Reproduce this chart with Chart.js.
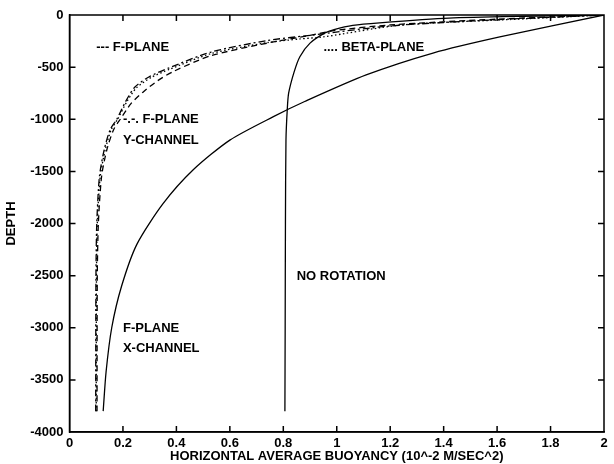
<!DOCTYPE html>
<html>
<head>
<meta charset="utf-8">
<script src="https://cdn.jsdelivr.net/npm/chart.js@4"></script>
<style>
  body { margin: 0; background: #fff; }
  #c { display: block; }
</style>
</head>
<body>
<canvas id="c" width="614" height="464"></canvas>
<script>
// buoyancy profiles (x = buoyancy, y = depth)
const noRotX = [0.806, 0.807, 0.808, 0.81, 0.815, 0.82, 0.84, 0.862, 0.90, 0.956, 0.99, 1.06, 1.16, 1.42, 1.7, 2];
const noRotY = [-3800, -3000, -2000, -1200, -900, -750, -550, -400, -270, -172, -140, -100, -75, -30, -12, 0];

const xChanX = [0.126, 0.137, 0.158, 0.195, 0.252, 0.35, 0.463, 0.60, 0.763, 0.88, 1.11, 1.36, 1.61, 2];
const xChanY = [-3800, -3420, -3000, -2600, -2200, -1810, -1485, -1200, -975, -830, -575, -365, -210, 0];

const fPlaneX = [0.103, 0.104, 0.108, 0.12, 0.14, 0.165, 0.19, 0.23, 0.275, 0.33, 0.39, 0.53, 0.74, 0.9, 0.99, 1.2, 1.6, 2];
const fPlaneY = [-3800, -2500, -2000, -1550, -1290, -1100, -1000, -850, -740, -630, -540, -390, -270, -195, -150, -95, -40, 0];

const yChanX = [0.098, 0.099, 0.102, 0.112, 0.13, 0.152, 0.177, 0.21, 0.245, 0.30, 0.37, 0.53, 0.74, 0.9, 1.2, 1.6, 2];
const yChanY = [-3800, -2500, -2000, -1550, -1290, -1100, -1000, -830, -690, -590, -510, -355, -245, -195, -105, -45, 0];

const betaX = [0.1, 0.101, 0.104, 0.115, 0.134, 0.156, 0.18, 0.215, 0.25, 0.305, 0.375, 0.53, 0.74, 0.862, 0.95, 1.24, 1.61, 2];
const betaY = [-3800, -2500, -2000, -1550, -1290, -1100, -1000, -830, -700, -600, -520, -370, -265, -230, -210, -96, -48, 0];

const xTicks = [0, 0.2, 0.4, 0.6, 0.8, 1, 1.2, 1.4, 1.6, 1.8, 2];
const yTicks = [0, -500, -1000, -1500, -2000, -2500, -3000, -3500, -4000];

// text labels placed in data coordinates
const notes = [
  { text: '--- F-PLANE', x: 0.1, y: -310 },
  { text: '-.-. F-PLANE', x: 0.2, y: -1000 },
  { text: 'Y-CHANNEL', x: 0.2, y: -1200 },
  { text: '.... BETA-PLANE', x: 0.95, y: -310 },
  { text: 'NO ROTATION', x: 0.85, y: -2510 },
  { text: 'F-PLANE', x: 0.2, y: -3010 },
  { text: 'X-CHANNEL', x: 0.2, y: -3200 }
];

const pts = (xs, ys) => xs.map((v, i) => ({ x: v, y: ys[i] }));
const FAMILY = '"Liberation Sans", Arial, sans-serif';
const FONT = 'bold 13px ' + FAMILY;
const tickFont = { family: FAMILY, size: 13, weight: 'bold' };

function line(data, dash) {
  return {
    data: data,
    borderColor: '#000',
    borderWidth: 1.3,
    borderDash: dash,
    pointRadius: 0,
    tension: 0.25,
    fill: false
  };
}

// box with inward ticks on all four sides, then the curve labels
const framePlugin = {
  id: 'framePlugin',
  afterDatasetsDraw(chart) {
    const ctx = chart.ctx;
    const sx = chart.scales.x, sy = chart.scales.y;
    const L = sx.getPixelForValue(0), R = sx.getPixelForValue(2);
    const T = sy.getPixelForValue(0), B = sy.getPixelForValue(-4000);
    ctx.save();
    ctx.setLineDash([]);
    ctx.globalAlpha = 1;
    ctx.globalCompositeOperation = 'source-over';
    ctx.strokeStyle = 'rgb(0,0,0)';
    ctx.lineWidth = 1.5;
    ctx.beginPath();
    ctx.moveTo(L, T); ctx.lineTo(R, T); ctx.lineTo(R, B); ctx.lineTo(L, B); ctx.closePath();
    xTicks.forEach(t => {
      const px = sx.getPixelForValue(t);
      ctx.moveTo(px, B); ctx.lineTo(px, B - 6);
      ctx.moveTo(px, T); ctx.lineTo(px, T + 6);
    });
    yTicks.forEach(t => {
      const py = sy.getPixelForValue(t);
      ctx.moveTo(L, py); ctx.lineTo(L + 6, py);
      ctx.moveTo(R, py); ctx.lineTo(R - 6, py);
    });
    ctx.stroke();
    ctx.fillStyle = 'rgb(0,0,0)';
    ctx.font = FONT;
    ctx.textBaseline = 'middle';
    ctx.textAlign = 'left';
    notes.forEach(n => {
      ctx.fillText(n.text, sx.getPixelForValue(n.x), sy.getPixelForValue(n.y));
    });
    ctx.restore();
  }
};

new Chart(document.getElementById('c'), {
  type: 'line',
  data: {
    datasets: [
      line(pts(noRotX, noRotY), []),
      line(pts(xChanX, xChanY), []),
      line(pts(fPlaneX, fPlaneY), [6, 4]),
      line(pts(yChanX, yChanY), [7, 3, 2, 3]),
      line(pts(betaX, betaY), [1.5, 2.5])
    ]
  },
  options: {
    responsive: false,
    animation: false,
    layout: { padding: { top: 15, right: 10, left: 0, bottom: 0 } },
    plugins: { legend: { display: false }, tooltip: { enabled: false } },
    scales: {
      x: {
        type: 'linear',
        min: 0, max: 2,
        afterBuildTicks: s => { s.ticks = xTicks.map(v => ({ value: v })); },
        afterFit: s => { s.height = 32; },
        grid: { display: false, drawTicks: false },
        border: { display: true, color: '#000', width: 1.5 },
        ticks: { color: '#000', font: tickFont, padding: 4, maxRotation: 0, callback: v => String(+v.toFixed(1)) },
        title: { display: true, text: 'HORIZONTAL AVERAGE BUOYANCY (10^-2 M/SEC^2)', color: '#000', font: tickFont, padding: { top: -2, bottom: 0 } }
      },
      y: {
        type: 'linear',
        min: -4000, max: 0,
        afterBuildTicks: s => { s.ticks = yTicks.map(v => ({ value: v })); },
        afterFit: s => { s.width = 69.5; },
        grid: { display: false, drawTicks: false },
        border: { display: true, color: '#000', width: 1.5 },
        ticks: { color: '#000', font: tickFont, padding: 6, callback: v => String(v) },
        title: { display: true, text: 'DEPTH', color: '#000', font: tickFont, padding: { top: 4, bottom: 0 } }
      }
    }
  },
  plugins: [framePlugin]
});
</script>
</body>
</html>
